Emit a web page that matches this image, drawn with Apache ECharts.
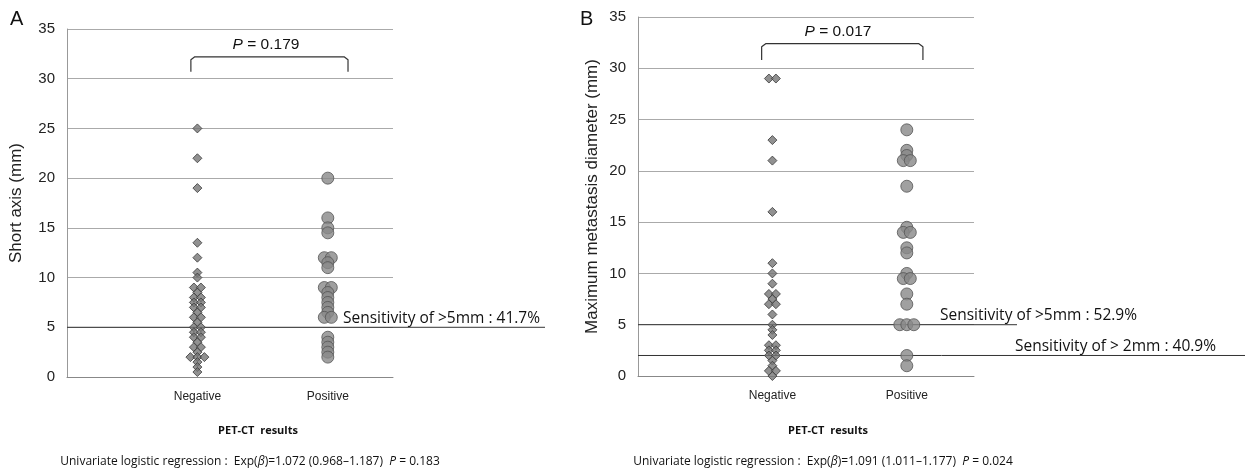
<!DOCTYPE html>
<html><head><meta charset="utf-8">
<script src="https://cdn.jsdelivr.net/npm/echarts@6/dist/echarts.min.js"></script>
<style>html,body{margin:0;background:#fff}#c{width:1254px;height:472px}</style>
</head><body><div id="c"></div>
<script>
// ---- data ----
const categories = ['Negative', 'Positive'];
const yTicks = [0, 5, 10, 15, 20, 25, 30, 35];
const shortAxisNegative = [25, 22, 19, 13.5, 12, 10.5, 10, 9, 9, 8.5, 8, 8, 7.5, 7.5, 7, 7, 6.5, 6, 6, 5.5, 5, 5, 4.5, 4.5, 4, 4, 3.5, 3, 3, 2.5, 2, 2, 2, 1.5, 1, 0.5];
const shortAxisPositive = [20, 16, 15, 14.5, 12, 12, 11.5, 11, 9, 9, 8.5, 8, 7.5, 7, 6.5, 6, 6, 4, 3.5, 3, 2.5, 2];
const maxDiamNegative = [29, 29, 23, 21, 16, 11, 10, 9, 8, 8, 7.5, 7, 7, 6, 5, 4.5, 4, 3, 3, 2.5, 2.5, 2, 2, 1.5, 1, 0.5, 0.5, 0];
const maxDiamPositive = [24, 22, 21.5, 21, 21, 18.5, 14.5, 14, 14, 12.5, 12, 10, 9.5, 9.5, 8, 7, 5, 5, 5, 2, 1];
const thresholdsA = [5];
const thresholdsB = [5, 2];
const sensitivityTextsA = ['Sensitivity of >5mm : 41.7%'];
const sensitivityTextsB = ['Sensitivity of >5mm : 52.9%', 'Sensitivity of > 2mm : 40.9%'];
const pValueA = '0.179', pValueB = '0.017';
const regressionA = { exp: '1.072', ci: '0.968–1.187', p: '0.183' };
const regressionB = { exp: '1.091', ci: '1.011–1.177', p: '0.024' };

// ---- helpers ----
function spread(vals, catIdx, step) {
  const counts = {}, seen = {};
  vals.forEach(v => counts[v] = (counts[v] || 0) + 1);
  return vals.map(v => {
    const n = counts[v], k = (seen[v] = (seen[v] || 0)); seen[v]++;
    return { value: [catIdx + 1, v], symbolOffset: [(k - (n - 1) / 2) * step, 0] };
  });
}
const diamondStyle = { color: '#767676', borderColor: '#3a3a3a', borderWidth: 1 };
const circleStyle = { color: '#888888', borderColor: '#555555', borderWidth: 1 };

function xAxisCfg(gi) {
  return {
    gridIndex: gi, type: 'value', min: 0, max: 2.5, interval: 0.5,
    axisLine: { show: true, lineStyle: { color: '#888' } },
    axisTick: { show: false }, splitLine: { show: false },
    axisLabel: { color: '#222', fontSize: 12, fontFamily: 'Liberation Sans', margin: 14,
      formatter: v => (v === 1 ? categories[0] : v === 2 ? categories[1] : '') }
  };
}
function yAxisCfg(gi, name, gap) {
  return {
    gridIndex: gi, type: 'value', min: 0, max: 35, interval: 5,
    name, nameLocation: 'middle', nameGap: gap, nameRotate: 90,
    nameTextStyle: { color: '#222', fontSize: 17, fontFamily: 'Liberation Sans' },
    axisLine: { show: true, lineStyle: { color: '#999' } }, axisTick: { show: false },
    splitLine: { show: true, lineStyle: { color: '#aaa', width: 1 } },
    axisLabel: { color: '#222', fontSize: 15, fontFamily: 'Liberation Sans', margin: 12,
      formatter: v => (yTicks.includes(v) ? String(v) : '') }
  };
}
function bracket(gi, x1, x2, yLow, yHigh) {
  return { type: 'line', xAxisIndex: gi, yAxisIndex: gi, clip: false, symbol: 'none', silent: true,
    lineStyle: { color: '#333', width: 1.2 },
    data: [[x1, yLow], [x1, yHigh - 0.3], [x1 + 0.03, yHigh], [x2 - 0.03, yHigh], [x2, yHigh - 0.3], [x2, yLow]] };
}

const chart = echarts.init(document.getElementById('c'));
chart.setOption({
  animation: false,
  backgroundColor: '#fff',
  grid: [
    { left: 67, top: 29, width: 326, height: 348 },
    { left: 638, top: 17, width: 336, height: 359 }
  ],
  xAxis: [xAxisCfg(0), xAxisCfg(1)],
  yAxis: [yAxisCfg(0, 'Short axis (mm)', 42), yAxisCfg(1, 'Maximum metastasis diameter (mm)', 37)],
  series: [
    bracket(0, 0.95, 2.155, 30.7, 32.2),
    bracket(1, 0.92, 2.12, 30.8, 32.4),
    { type: 'scatter', xAxisIndex: 0, yAxisIndex: 0, symbol: 'diamond', symbolSize: 9, itemStyle: diamondStyle, data: spread(shortAxisNegative, 0, 7), z: 3 },
    { type: 'scatter', xAxisIndex: 0, yAxisIndex: 0, symbol: 'circle', symbolSize: 12, itemStyle: circleStyle, data: spread(shortAxisPositive, 1, 7), z: 3 },
    { type: 'scatter', xAxisIndex: 1, yAxisIndex: 1, symbol: 'diamond', symbolSize: 9, itemStyle: diamondStyle, data: spread(maxDiamNegative, 0, 7), z: 3 },
    { type: 'scatter', xAxisIndex: 1, yAxisIndex: 1, symbol: 'circle', symbolSize: 12, itemStyle: circleStyle, data: spread(maxDiamPositive, 1, 7), z: 3 }
  ]
});

// threshold lines extend beyond the plot, under the sensitivity labels
const lineEndsA = [545];
const lineEndsB = [1017, 1245];
const textLeftA = [343];
const textLeftB = [940, 1015];
const senFont = '15.5px "Open Sans"';
const g = [];
function addThresh(gi, val, xEnd, text, textLeft) {
  const p0 = chart.convertToPixel({ gridIndex: gi }, [0, val]);
  g.push({ type: 'line', shape: { x1: p0[0], y1: p0[1], x2: xEnd, y2: p0[1] }, style: { stroke: '#333', lineWidth: 1 }, z: 1 });
  g.push({ type: 'text', x: textLeft, y: p0[1] - 1, style: { text, verticalAlign: 'bottom', font: senFont, fill: '#111' } });
}
thresholdsA.forEach((v, i) => addThresh(0, v, lineEndsA[i], sensitivityTextsA[i], textLeftA[i]));
thresholdsB.forEach((v, i) => addThresh(1, v, lineEndsB[i], sensitivityTextsB[i], textLeftB[i]));
const richI = (s) => ({ i: { fontStyle: 'italic', fontSize: s, fontFamily: 'Liberation Sans' } });
const richIO = (s) => ({ i: { fontStyle: 'italic', fontSize: s, fontFamily: 'Open Sans' } });
g.push(
  { type: 'text', left: 10, top: 9, style: { text: 'A', font: '20px "Liberation Sans"', fill: '#111' } },
  { type: 'text', left: 580, top: 9, style: { text: 'B', font: '20px "Liberation Sans"', fill: '#111' } },
  { type: 'text', x: 266, y: 45, style: { text: '{i|P} = ' + pValueA, align: 'center', verticalAlign: 'middle', font: '15.5px "Liberation Sans"', fill: '#111', rich: richI(15.5) } },
  { type: 'text', x: 838, y: 32, style: { text: '{i|P} = ' + pValueB, align: 'center', verticalAlign: 'middle', font: '15.5px "Liberation Sans"', fill: '#111', rich: richI(15.5) } },
  { type: 'text', x: 258, y: 431, style: { text: 'PET-CT  results', align: 'center', verticalAlign: 'middle', font: 'bold 11px "Open Sans"', fill: '#111' } },
  { type: 'text', x: 828, y: 431, style: { text: 'PET-CT  results', align: 'center', verticalAlign: 'middle', font: 'bold 11px "Open Sans"', fill: '#111' } },
  { type: 'text', x: 250, y: 462, style: { text: 'Univariate logistic regression :  Exp({i|β})=' + regressionA.exp + ' (' + regressionA.ci + ')  {i|P} = ' + regressionA.p, align: 'center', verticalAlign: 'middle', font: '12px "Open Sans"', fill: '#111', rich: richIO(12) } },
  { type: 'text', x: 823, y: 462, style: { text: 'Univariate logistic regression :  Exp({i|β})=' + regressionB.exp + ' (' + regressionB.ci + ')  {i|P} = ' + regressionB.p, align: 'center', verticalAlign: 'middle', font: '12px "Open Sans"', fill: '#111', rich: richIO(12) } }
);
chart.setOption({ graphic: g });
</script></body></html>
